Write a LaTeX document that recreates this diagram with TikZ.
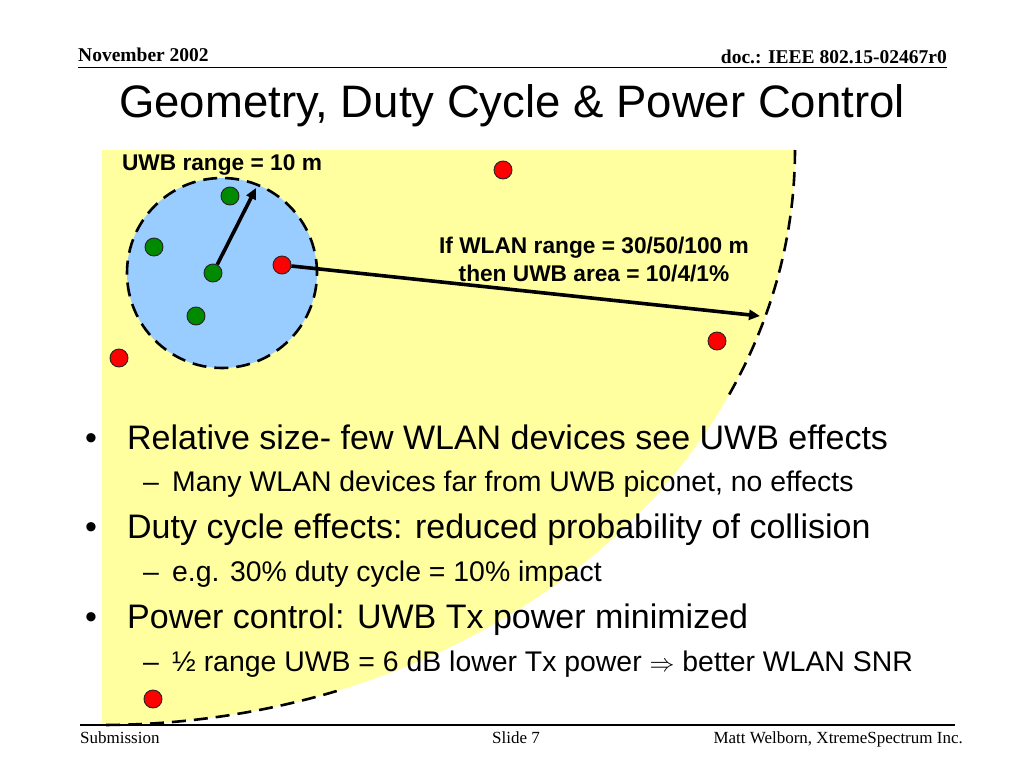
\documentclass[tikz,border=0pt]{standalone}
\usepackage{fontspec}
\setmainfont{Liberation Sans}
\newfontfamily\timesf{Liberation Serif}
\usetikzlibrary{arrows.meta}
\definecolor{areayellow}{HTML}{FFFFA0}
\definecolor{uwbblue}{HTML}{99CCFF}
\definecolor{devgreen}{HTML}{008A00}
\definecolor{devred}{HTML}{FF0000}
\tikzset{
  dev/.style={circle, inner sep=0pt, minimum size=18pt, draw=black!85, line width=0.9pt},
  gdev/.style={dev, fill=devgreen},
  rdev/.style={dev, fill=devred},
  rangedash/.style={draw=black, line width=2.6pt, dash pattern=on 14pt off 8pt},
  bigarrow/.style={draw=black, line width=3.6pt, -{Triangle[length=11pt,width=10pt]}},
  lbl/.style={font=\fontsize{22.7}{28}\selectfont\bfseries, inner sep=0pt, align=center},
  lvlone/.style={font=\fontsize{34}{40}\selectfont, inner sep=0pt, anchor=base west},
  lvltwo/.style={font=\fontsize{28.4}{34}\selectfont, inner sep=0pt, anchor=base west},
  hdr/.style={font=\timesf\bfseries\fontsize{19.5}{22}\selectfont, inner sep=0pt},
  ftr/.style={font=\timesf\fontsize{17}{20}\selectfont, inner sep=0pt},
  rule/.style={draw=black, line width=1.4pt}
}
\begin{document}
\begin{tikzpicture}[x=1pt,y=-1pt]
\useasboundingbox (0,0) rectangle (1024,768);
\fill[white] (0,0) rectangle (1024,768);

% WLAN coverage area
\fill[areayellow] (102,150) -- plot[domain=0:90,samples=90] ({102+693*cos(\x)},{150+575*sin(\x)}) -- cycle;
\draw[rangedash] plot[domain=0:25.8,samples=40] ({102+693*cos(\x)},{150+575*sin(\x)});
\draw[rangedash] plot[domain=70.2:90,samples=40] ({102+693*cos(\x)},{150+575*sin(\x)});

% UWB piconet
\node[circle, minimum size=190pt, inner sep=0pt, fill=uwbblue, rangedash] (uwb) at (222,273) {};

% headers
\node[hdr, anchor=base west] (date) at (78,61.5) {November 2002};
\node[hdr, anchor=base east] (doc) at (947,63.5) {doc.: IEEE 802.15-02467r0};
\coordinate (hl) at (78,67.5);
\coordinate (hr) at (947,67.5);
\draw[rule] (hl) -- (hr);

\node[font=\fontsize{45.5}{50}\selectfont, inner sep=0pt, anchor=base] (title) at (512,117) {Geometry, Duty Cycle \& Power Control};

% labels
\node[lbl] (uwblbl) at (222,165) {UWB range = 10 m};
\node[lbl] (wlanlbl) at (594,259) {If WLAN range = 30/50/100 m\\then UWB area = 10/4/1\%};

% devices
\node[gdev] (g1) at (230,196) {};
\node[gdev] (g2) at (154,247) {};
\node[gdev] (g3) at (213,273) {};
\node[gdev] (g4) at (196,316) {};
\node[rdev] (r1) at (282,265) {};
\node[rdev] (r2) at (503,170) {};
\node[rdev] (r3) at (717,341) {};
\node[rdev] (r4) at (119,358) {};
\node[rdev] (r5) at (153,699) {};

% arrows
\coordinate (rtip) at (256,188);
\coordinate (wtip) at (760,316);
\draw[bigarrow] (g3) -- (rtip);
\draw[bigarrow] (r1) -- (wtip);

% bullets
\node[lvlone] (b1d) at (85,449) {•};
\node[lvlone] (b1) at (127,449) {Relative size- few WLAN devices see UWB effects};
\node[lvltwo] (s1d) at (143,491) {–};
\node[lvltwo] (s1) at (172,491) {Many WLAN devices far from UWB piconet, no effects};
\node[lvlone] (b2d) at (85,538) {•};
\node[lvlone] (b2) at (127,538) {Duty cycle effects: reduced probability of collision};
\node[lvltwo] (s2d) at (143,581) {–};
\node[lvltwo] (s2) at (172,581) {e.g. 30\% duty cycle = 10\% impact};
\node[lvlone] (b3d) at (85,628) {•};
\node[lvlone] (b3) at (127,628) {Power control: UWB Tx power minimized};
\node[lvltwo] (s3d) at (143,671) {–};
\node[lvltwo] (s3) at (172,671) {½ range UWB = 6 dB lower Tx power $\Rightarrow$ better WLAN SNR};

% footer
\coordinate (fl) at (80,725);
\coordinate (fr) at (955,725);
\draw[rule] (fl) -- (fr);
\node[ftr, anchor=base west] (sub) at (80,743) {Submission};
\node[ftr, anchor=base] (slide) at (516,743) {Slide 7};
\node[ftr, anchor=base east] (auth) at (963,743) {Matt Welborn, XtremeSpectrum Inc.};
\end{tikzpicture}
\end{document}
